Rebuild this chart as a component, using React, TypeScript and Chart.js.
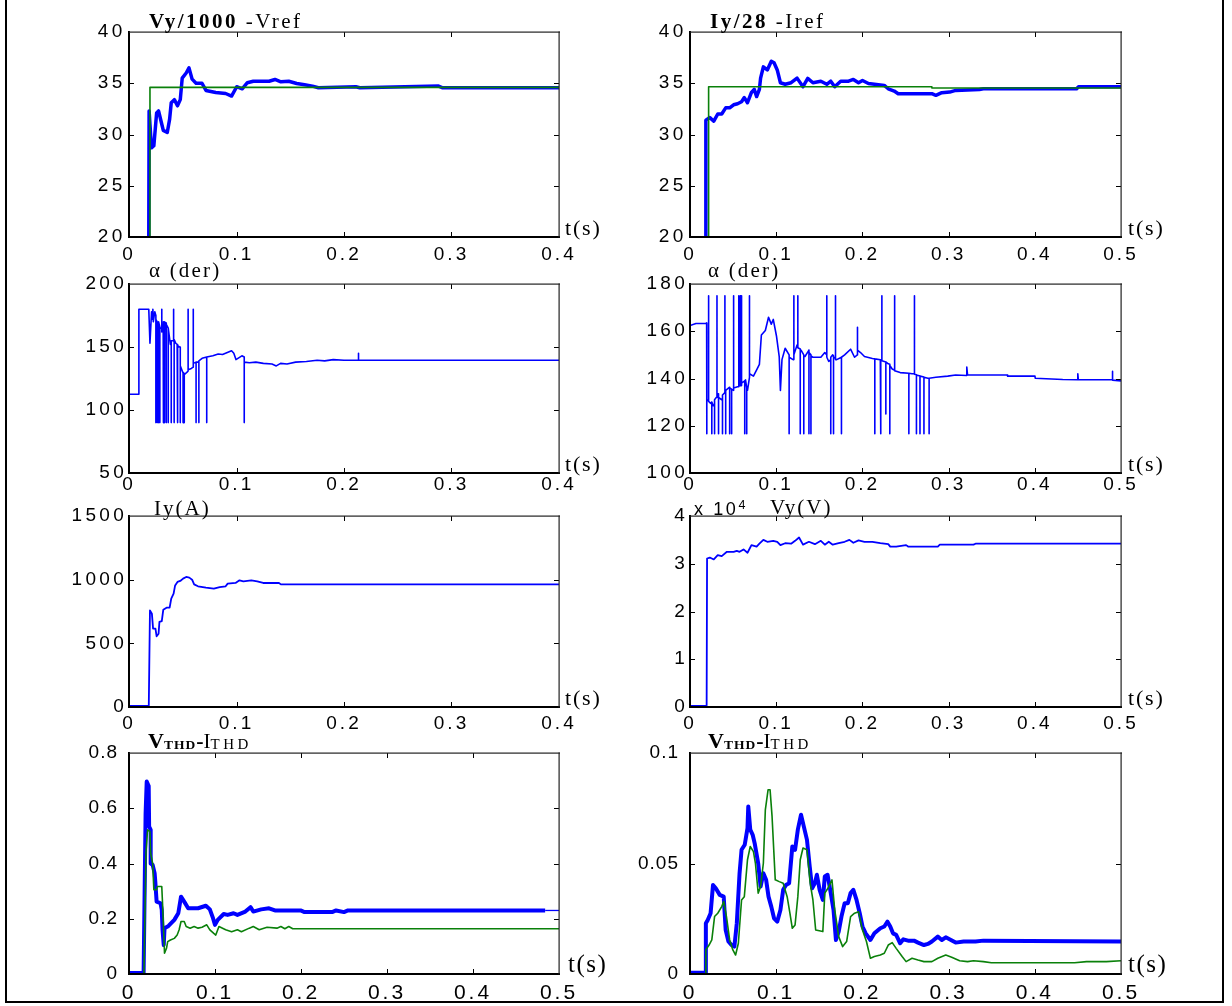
import React, { useEffect, useRef } from "react";
import { Chart, registerables } from "chart.js";

Chart.register(...registerables);

type P = [number, number];

// ---------------- tick labels ----------------
const xTicks04 = [0, 0.1, 0.2, 0.3, 0.4];
const xTicks05 = [0, 0.1, 0.2, 0.3, 0.4, 0.5];
const yTicksVy = [20, 25, 30, 35, 40];
const yTicksIy = [20, 25, 30, 35, 40];
const yTicksAlphaL = [50, 100, 150, 200];
const yTicksAlphaR = [100, 120, 140, 160, 180];
const yTicksIyA = [0, 500, 1000, 1500];
const yTicksVyV = [0, 10000, 20000, 30000, 40000];
const yTicksThdL = [0, 0.2, 0.4, 0.6, 0.8];
const yTicksThdR = [0, 0.05, 0.1];

// ---------------- series ----------------
// Row 1 left: Vy/1000 (blue) and Vref (green)
const vyOver1000: P[] = [
  [0.0184, 20], [0.0187, 32.3], [0.0209, 28.7], [0.0231, 28.9], [0.0257, 32.1], [0.0275, 32.3],
  [0.0305, 31.0], [0.0319, 30.4], [0.0356, 30.2], [0.0378, 31.5], [0.0393, 33.1], [0.0422, 33.4],
  [0.0451, 32.8], [0.0477, 33.4], [0.0495, 35.5], [0.0532, 36.0], [0.0558, 36.5], [0.0587, 35.4],
  [0.0624, 35.0], [0.0679, 35.0], [0.0716, 34.3], [0.0807, 34.1], [0.0899, 34.0], [0.0954, 33.75],
  [0.1002, 34.66], [0.1053, 34.46], [0.1101, 35.05], [0.1156, 35.2], [0.1303, 35.2], [0.1358, 35.37],
  [0.1413, 35.14], [0.1486, 35.2], [0.156, 34.98], [0.1633, 34.85], [0.1707, 34.72], [0.1762, 34.56],
  [0.211, 34.66], [0.2147, 34.56], [0.288, 34.72], [0.2918, 34.56], [0.4, 34.56],
];
const vref: P[] = [[0.0195, 20], [0.0195, 34.6], [0.4, 34.6]];

// Row 1 right: Iy/28 (blue) and Iref (green)
const iyOver28: P[] = [
  [0.0184, 20], [0.0184, 31.4], [0.023, 31.65], [0.0276, 31.3], [0.0322, 32.0], [0.0368, 32.0],
  [0.0414, 32.6], [0.046, 32.6], [0.0506, 32.9], [0.0552, 33.0], [0.0598, 33.2], [0.063, 33.6],
  [0.0667, 33.1], [0.0713, 34.1], [0.0745, 34.4], [0.0773, 33.7], [0.0805, 34.4], [0.0819, 35.5],
  [0.0851, 36.6], [0.0897, 36.3], [0.0943, 37.15], [0.0975, 37.0], [0.1012, 36.3], [0.1049, 35.05],
  [0.1104, 34.9], [0.1173, 35.05], [0.1242, 35.5], [0.1311, 34.66], [0.1366, 35.47], [0.1426, 35.05],
  [0.1518, 35.2], [0.1587, 34.9], [0.1633, 35.2], [0.1679, 34.66], [0.1748, 35.2], [0.184, 35.2],
  [0.1895, 35.37], [0.1955, 35.05], [0.2001, 35.27], [0.207, 34.98], [0.2254, 34.79], [0.23, 34.46],
  [0.2369, 34.24], [0.2415, 33.98], [0.2806, 33.98], [0.2852, 33.82], [0.2921, 34.08], [0.3013, 34.14],
  [0.3082, 34.3], [0.3358, 34.4], [0.3404, 34.46], [0.4485, 34.46], [0.4508, 34.66], [0.5, 34.66],
];
const iref: P[] = [[0.0216, 20], [0.0216, 34.66], [0.2806, 34.66], [0.2806, 34.53], [0.5, 34.53]];

// Row 2 left: alpha (deg)
const alphaLeft: P[] = [
  [0, 112.5], [0.0092, 112.5], [0.0092, 180], [0.0184, 180], [0.0195, 153], [0.021, 178], [0.0218, 172],
  [0.0222, 180], [0.0226, 170], [0.024, 178], [0.025, 175], [0.025, 90], [0.025, 172], [0.0262, 170],
  [0.0262, 90], [0.0262, 168], [0.027, 168], [0.0275, 168], [0.0275, 90], [0.0275, 170], [0.0287, 166],
  [0.0287, 90], [0.0287, 165], [0.0295, 165], [0.0305, 165], [0.0305, 180], [0.0305, 162], [0.0318, 168],
  [0.0318, 90], [0.0318, 170], [0.0325, 170], [0.033, 168], [0.033, 90], [0.033, 170], [0.0345, 169],
  [0.0345, 90], [0.0345, 168], [0.035, 168], [0.0365, 165], [0.0365, 90], [0.0365, 165], [0.0385, 152],
  [0.0393, 152], [0.0393, 90], [0.0393, 155], [0.0415, 155], [0.0415, 180], [0.0415, 155], [0.042, 154],
  [0.042, 90], [0.042, 156], [0.0435, 153], [0.0448, 152], [0.0448, 90], [0.0448, 152], [0.0455, 151],
  [0.0455, 90], [0.0455, 151], [0.047, 150], [0.0477, 150], [0.0477, 90], [0.0477, 135],
  [0.05, 130], [0.0503, 130], [0.0503, 90], [0.0503, 130], [0.0514, 129], [0.0514, 90], [0.0514, 128],
  [0.054, 130], [0.055, 131], [0.055, 180], [0.055, 132], [0.058, 133], [0.0598, 134], [0.0598, 180],
  [0.0598, 137], [0.0624, 138], [0.0624, 90], [0.0624, 138], [0.065, 138], [0.065, 90], [0.065, 139],
  [0.068, 141], [0.0723, 142], [0.0723, 90], [0.0723, 142], [0.078, 143], [0.083, 144.5], [0.087, 144],
  [0.0954, 147], [0.0975, 145], [0.0995, 140], [0.105, 143], [0.1072, 142], [0.1072, 90], [0.1072, 138],
  [0.112, 137.5], [0.118, 138], [0.125, 137], [0.133, 136.5], [0.137, 135], [0.141, 137], [0.147, 136.5],
  [0.155, 138], [0.165, 138.5], [0.175, 139.5], [0.182, 139], [0.19, 140], [0.2, 139.5], [0.2135, 139.5],
  [0.2135, 145], [0.2135, 139.5], [0.4, 139.5],
];

// Row 2 right: alpha (deg)
const alphaRight: P[] = [
  [0, 162.4], [0.0069, 163.3], [0.0184, 163.3],
  [0.0193, 163.5], [0.0193, 116.6], [0.0197, 130.5],
  [0.0207, 131], [0.0216, 131], [0.0216, 175], [0.0216, 130.3],
  [0.024, 129.5], [0.0253, 130], [0.0253, 116.6], [0.0253, 130],
  [0.027, 128.5], [0.0285, 129], [0.0285, 116.6], [0.0285, 131],
  [0.0305, 132], [0.0313, 132], [0.0313, 175], [0.0313, 133.5],
  [0.0331, 133.5], [0.0331, 116.6], [0.0331, 132],
  [0.0368, 131], [0.0377, 131], [0.0377, 116.6], [0.0377, 133],
  [0.0405, 134], [0.0405, 175], [0.0405, 134],
  [0.0414, 134], [0.0414, 116.6], [0.0414, 135],
  [0.046, 136.3], [0.046, 116.6], [0.046, 136],
  [0.0483, 135.5], [0.0483, 116.6], [0.0483, 135.5],
  [0.0506, 135], [0.0506, 175], [0.0506, 136],
  [0.0552, 136.5], [0.0566, 136.5], [0.0566, 175], [0.0566, 137],
  [0.0584, 137], [0.0584, 175], [0.0584, 137],
  [0.0598, 137], [0.0598, 175], [0.0598, 138],
  [0.0635, 139], [0.0635, 116.6], [0.0635, 139],
  [0.0644, 139.4], [0.0658, 136], [0.0658, 116.6], [0.0658, 135],
  [0.0667, 135], [0.069, 140.5], [0.069, 175], [0.069, 142],
  [0.0736, 141], [0.0782, 144.3], [0.0805, 146], [0.0828, 158.4], [0.0874, 160.3], [0.0911, 165.9],
  [0.0943, 163], [0.0966, 165], [0.1003, 158], [0.1035, 149.3], [0.1049, 134.9], [0.1067, 148], [0.1104, 152.8],
  [0.115, 150], [0.115, 116.6], [0.115, 149],
  [0.1196, 148], [0.1205, 148.5], [0.1205, 175], [0.1205, 150],
  [0.1242, 154.2], [0.1251, 154], [0.1251, 175], [0.1251, 153],
  [0.1279, 152.5], [0.1279, 116.6], [0.1279, 152],
  [0.1288, 152], [0.132, 150], [0.132, 116.6], [0.132, 149.5],
  [0.1334, 149.3], [0.138, 152], [0.138, 116.6], [0.138, 151],
  [0.1403, 150], [0.1403, 116.6], [0.1403, 149.5],
  [0.1426, 149], [0.1518, 149], [0.1564, 151], [0.1587, 150], [0.1587, 175], [0.1587, 149],
  [0.161, 147.2], [0.1633, 148], [0.1633, 116.6], [0.1633, 149],
  [0.1656, 150], [0.1665, 149.5], [0.1665, 116.6], [0.1665, 149],
  [0.1688, 148.5], [0.1688, 175], [0.1688, 148],
  [0.1702, 148], [0.1757, 149], [0.1757, 116.6], [0.1757, 149],
  [0.1794, 150], [0.1863, 152.4], [0.1909, 149], [0.1941, 150], [0.1941, 161.7], [0.1945, 152],
  [0.1978, 151], [0.2024, 149.3],
  [0.2116, 148.5], [0.2144, 148.3], [0.2144, 116.6], [0.2144, 148.3],
  [0.2208, 147.9], [0.2213, 147.8], [0.2213, 116.6], [0.2213, 147.7],
  [0.2226, 147.6], [0.2226, 175], [0.2226, 147.5],
  [0.2272, 147], [0.2272, 125], [0.2272, 147],
  [0.23, 146.2], [0.2318, 146], [0.2318, 116.6], [0.2318, 145.5],
  [0.2346, 144], [0.2374, 143.5], [0.2374, 175], [0.2374, 143.3],
  [0.2438, 142.5], [0.2539, 142.2], [0.2539, 116.6], [0.2539, 142.2],
  [0.2576, 142], [0.2604, 142], [0.2604, 175], [0.2604, 141.8],
  [0.2627, 141.6], [0.2627, 116.6], [0.2627, 141.5],
  [0.2668, 141.1], [0.2668, 116.6], [0.2668, 141],
  [0.2714, 140.6], [0.2714, 116.6], [0.2714, 140.5],
  [0.276, 140.1], [0.2774, 140.1], [0.2774, 116.6], [0.2774, 140.1],
  [0.2852, 140.5], [0.299, 141], [0.3082, 141.5], [0.3211, 141.3], [0.3211, 144.8], [0.322, 141.5],
  [0.368, 141.5], [0.3685, 141], [0.4002, 141], [0.4005, 140.1], [0.4324, 139.6], [0.4499, 139.5],
  [0.4499, 142], [0.4505, 139.5], [0.4899, 139.5], [0.4899, 143], [0.4905, 139.3], [0.5, 139],
];

// Row 3 left: Iy (A)
const iyAmps: P[] = [
  [0, 8], [0.0184, 8], [0.0195, 759], [0.0213, 733], [0.0224, 615], [0.0246, 615], [0.0257, 555],
  [0.0275, 576], [0.0283, 668], [0.0305, 675], [0.0319, 764], [0.0349, 780], [0.0378, 780], [0.0393, 851],
  [0.0415, 890], [0.0429, 955], [0.0451, 982], [0.0477, 990], [0.0503, 1008], [0.0532, 1021],
  [0.0561, 1016], [0.0587, 1000], [0.0606, 963], [0.0642, 948], [0.0716, 937], [0.0789, 929],
  [0.0844, 942], [0.0899, 948], [0.0918, 969], [0.0991, 974], [0.1028, 995], [0.1064, 987],
  [0.1138, 995], [0.1193, 987], [0.1248, 974], [0.1395, 974], [0.1413, 963], [0.4, 963],
];

// Row 3 right: Vy (V)
const vyVolts: P[] = [
  [0, 250], [0.0193, 250], [0.0198, 31100], [0.023, 31300], [0.0276, 30900], [0.0322, 31800],
  [0.0368, 31600], [0.0428, 32500], [0.0506, 32500], [0.0543, 32700], [0.0575, 32500], [0.0621, 33000],
  [0.0667, 32300], [0.0713, 33900], [0.0773, 33600], [0.0805, 34200], [0.0851, 35000], [0.0897, 34600],
  [0.0966, 34800], [0.1012, 34600], [0.1049, 33900], [0.1104, 34300], [0.1173, 34200], [0.1219, 34800],
  [0.1265, 35500], [0.1311, 34000], [0.138, 34600], [0.1449, 34100], [0.1518, 34800], [0.1564, 34000],
  [0.161, 34600], [0.1656, 34000], [0.1725, 34300], [0.1794, 34600], [0.1849, 35000], [0.1895, 34400],
  [0.1955, 34900], [0.2024, 34600], [0.2116, 34600], [0.2208, 34300], [0.23, 34100], [0.2323, 33600],
  [0.2392, 33600], [0.2507, 33900], [0.253, 33600], [0.2875, 33600], [0.2898, 34000], [0.3289, 34000],
  [0.3312, 34200], [0.5, 34200],
];

// Row 4 left: V_THD (blue) and I_THD (green)
const thdLeftV: P[] = [
  [0, 0.004], [0.017, 0.004], [0.0193, 0.58], [0.0206, 0.697], [0.0229, 0.68], [0.0234, 0.534],
  [0.0252, 0.522], [0.0252, 0.4], [0.0275, 0.395], [0.0298, 0.365], [0.0307, 0.329], [0.0321, 0.262],
  [0.0367, 0.256], [0.0381, 0.232], [0.039, 0.16], [0.0404, 0.105], [0.0413, 0.166], [0.0459, 0.174],
  [0.0527, 0.196], [0.0573, 0.22], [0.0605, 0.28], [0.0642, 0.262], [0.0688, 0.238], [0.0803, 0.238],
  [0.0894, 0.247], [0.094, 0.234], [0.0977, 0.202], [0.1, 0.178], [0.1032, 0.196], [0.1101, 0.217],
  [0.1147, 0.214], [0.1216, 0.22], [0.1261, 0.214], [0.1353, 0.226], [0.1413, 0.242], [0.1445, 0.226],
  [0.1537, 0.234], [0.1628, 0.238], [0.1697, 0.23], [0.1995, 0.23], [0.2041, 0.224], [0.2362, 0.224],
  [0.2408, 0.23], [0.25, 0.224], [0.2546, 0.23], [0.4839, 0.23],
];
const thdLeftVTail: P[] = [[0.4839, 0.23], [0.5, 0.23]];
const thdLeftI: P[] = [
  [0, 0], [0.0174, 0], [0.0197, 0.437], [0.0216, 0.522], [0.0243, 0.516], [0.0252, 0.437], [0.0275, 0.4],
  [0.0289, 0.305], [0.0321, 0.305], [0.033, 0.317], [0.0381, 0.317], [0.039, 0.256], [0.0413, 0.075],
  [0.0436, 0.093], [0.045, 0.117], [0.0482, 0.123], [0.0527, 0.129], [0.056, 0.141], [0.0583, 0.16],
  [0.0605, 0.19], [0.0642, 0.19], [0.0665, 0.172], [0.0711, 0.166], [0.0757, 0.172], [0.0803, 0.166],
  [0.0849, 0.169], [0.0904, 0.178], [0.094, 0.16], [0.0986, 0.147], [0.1009, 0.141], [0.1046, 0.172],
  [0.1124, 0.16], [0.1193, 0.153], [0.1261, 0.16], [0.1307, 0.153], [0.1399, 0.166], [0.1445, 0.172],
  [0.1514, 0.16], [0.1605, 0.169], [0.172, 0.166], [0.1766, 0.172], [0.1812, 0.164], [0.1858, 0.172],
  [0.1904, 0.164], [0.5, 0.164],
];

// Row 4 right: V_THD (blue) and I_THD (green)
const thdRightV: P[] = [
  [0, 0.0006], [0.0175, 0.0006], [0.0184, 0.023], [0.0207, 0.0245], [0.0239, 0.0275], [0.0267, 0.0403],
  [0.0299, 0.0388], [0.0345, 0.0358], [0.0391, 0.035], [0.0414, 0.0199], [0.0446, 0.0147], [0.0483, 0.0131],
  [0.0515, 0.0124], [0.0543, 0.023], [0.0575, 0.0456], [0.0598, 0.0562], [0.0635, 0.0585], [0.0667, 0.066],
  [0.0676, 0.0758], [0.0699, 0.0653], [0.0727, 0.063], [0.075, 0.0592], [0.0791, 0.0501], [0.0819, 0.0396],
  [0.0851, 0.0456], [0.0883, 0.0426], [0.0911, 0.035], [0.0943, 0.0305], [0.0975, 0.0252], [0.1012, 0.0237],
  [0.1049, 0.029], [0.1081, 0.0381], [0.1113, 0.0403], [0.115, 0.0411], [0.1187, 0.0577], [0.1219, 0.0562],
  [0.1251, 0.0653], [0.1288, 0.0721], [0.132, 0.0668], [0.1357, 0.0607], [0.1389, 0.0486], [0.1417, 0.0388],
  [0.1449, 0.0411], [0.1472, 0.0449], [0.1504, 0.0381], [0.1541, 0.0335], [0.1564, 0.0441], [0.1596, 0.0449],
  [0.1633, 0.0366], [0.1665, 0.029], [0.1693, 0.0154], [0.1725, 0.0192], [0.1757, 0.026], [0.1794, 0.032],
  [0.1831, 0.032], [0.1863, 0.0366], [0.1895, 0.0381], [0.1932, 0.0335], [0.1969, 0.0275], [0.2001, 0.0215],
  [0.2038, 0.0184], [0.2093, 0.0154], [0.2139, 0.0184], [0.2208, 0.0207], [0.2254, 0.0215], [0.2291, 0.0237],
  [0.2323, 0.0215], [0.2355, 0.0184], [0.2392, 0.0177], [0.2438, 0.0139], [0.2475, 0.0157], [0.253, 0.0151],
  [0.2599, 0.0151], [0.2645, 0.0142], [0.2714, 0.0131], [0.276, 0.0136], [0.2806, 0.0147], [0.2875, 0.0169],
  [0.2921, 0.0154], [0.2967, 0.0166], [0.3027, 0.0154], [0.3082, 0.0142], [0.3174, 0.0147], [0.3312, 0.0147],
  [0.3404, 0.0151], [0.5, 0.0147],
];
const thdRightI: P[] = [
  [0, 0], [0.0175, 0], [0.0184, 0.0109], [0.0221, 0.0131], [0.0253, 0.0154], [0.0285, 0.026], [0.0322, 0.0275],
  [0.0368, 0.0305], [0.0391, 0.0328], [0.0423, 0.026], [0.046, 0.0154], [0.0497, 0.0109], [0.0529, 0.0086],
  [0.0561, 0.0139], [0.0598, 0.0335], [0.063, 0.035], [0.0667, 0.0517], [0.0699, 0.0577], [0.0736, 0.0554],
  [0.0759, 0.0501], [0.0791, 0.0366], [0.0819, 0.0396], [0.0851, 0.0501], [0.0874, 0.0743], [0.0906, 0.0834],
  [0.0929, 0.0834], [0.0952, 0.0713], [0.0989, 0.0426], [0.1035, 0.0418], [0.1081, 0.0411], [0.1127, 0.035],
  [0.1159, 0.0275], [0.1187, 0.0207], [0.1219, 0.0222], [0.1251, 0.035], [0.1279, 0.0517], [0.1311, 0.057],
  [0.1357, 0.0562], [0.1394, 0.0411], [0.1426, 0.0335], [0.1458, 0.0199], [0.1541, 0.0192], [0.1564, 0.0366],
  [0.16, 0.0388], [0.1647, 0.0426], [0.1679, 0.029], [0.1725, 0.0169], [0.1771, 0.0124], [0.1817, 0.0147],
  [0.1863, 0.026], [0.1909, 0.0275], [0.1955, 0.0282], [0.2001, 0.0199], [0.2047, 0.0147], [0.2093, 0.0071],
  [0.2139, 0.0079], [0.2208, 0.0086], [0.2254, 0.0094], [0.23, 0.0131], [0.2346, 0.0142], [0.2392, 0.0116],
  [0.2461, 0.0079], [0.2507, 0.0056], [0.2576, 0.0071], [0.2645, 0.0063], [0.2714, 0.0056], [0.2806, 0.0056],
  [0.2875, 0.0071], [0.2967, 0.0086], [0.3036, 0.0076], [0.3128, 0.006], [0.322, 0.0056], [0.3289, 0.006],
  [0.3404, 0.0056], [0.3496, 0.0051], [0.4462, 0.0051], [0.46, 0.0056], [0.483, 0.0056], [0.5, 0.006],
];

// ---------------- styling / layout ----------------
const BLUE = "#0000ff";
const GREEN = "#0a800a";
const SANS = "'Liberation Sans', Arial, Helvetica, sans-serif";
const SERIF = "'Liberation Serif', 'Times New Roman', Times, serif";

type Series = { data: P[]; color: string; width: number };
type PanelDef = {
  left: number; top: number; width: number; height: number;
  xTicks: number[]; yTicks: number[];
  series: Series[];
  yScaleDiv?: number;
  xFont: number; yFont: number; xSpacing: number; ySpacing: number;
  xPad: number; yPad: number;
};

const PADL = 110, PADT = 24, PADR = 34, PADB = 40;
const COL_L = 129, COL_W_L = 430, COL_R = 690, COL_W_R = 431;
const ROWS = [
  { top: 32, height: 205 },
  { top: 284, height: 189 },
  { top: 516, height: 191 },
  { top: 753, height: 221 },
];

const fmt = (v: number) => String(Math.round(v * 1e6) / 1e6);

const rowFonts = [
  { xFont: 19, yFont: 19, xSpacing: 3, ySpacing: 3.3, xPad: 6.5, yPad: 3.5 },
  { xFont: 19, yFont: 19, xSpacing: 3, ySpacing: 3.3, xPad: 0, yPad: 2 },
  { xFont: 19, yFont: 19, xSpacing: 3, ySpacing: 3.3, xPad: 5.5, yPad: 2 },
  { xFont: 21, yFont: 19, xSpacing: 3, ySpacing: 1, xPad: 7, yPad: 11 },
];

const panels: PanelDef[] = [
  { left: COL_L, width: COL_W_L, ...ROWS[0], ...rowFonts[0], xTicks: xTicks04, yTicks: yTicksVy,
    series: [{ data: vref, color: GREEN, width: 1.6 }, { data: vyOver1000, color: BLUE, width: 3.5 }] },
  { left: COL_R, width: COL_W_R, ...ROWS[0], ...rowFonts[0], xTicks: xTicks05, yTicks: yTicksIy,
    series: [{ data: iref, color: GREEN, width: 1.6 }, { data: iyOver28, color: BLUE, width: 3.5 }] },
  { left: COL_L, width: COL_W_L, ...ROWS[1], ...rowFonts[1], xTicks: xTicks04, yTicks: yTicksAlphaL,
    series: [{ data: alphaLeft, color: BLUE, width: 1.6 }] },
  { left: COL_R, width: COL_W_R, ...ROWS[1], ...rowFonts[1], xTicks: xTicks05, yTicks: yTicksAlphaR,
    series: [{ data: alphaRight, color: BLUE, width: 1.6 }] },
  { left: COL_L, width: COL_W_L, ...ROWS[2], ...rowFonts[2], xTicks: xTicks04, yTicks: yTicksIyA,
    series: [{ data: iyAmps, color: BLUE, width: 1.8 }] },
  { left: COL_R, width: COL_W_R, ...ROWS[2], ...rowFonts[2], xTicks: xTicks05, yTicks: yTicksVyV, yScaleDiv: 10000,
    series: [{ data: vyVolts, color: BLUE, width: 1.8 }] },
  { left: COL_L, width: COL_W_L, ...ROWS[3], ...rowFonts[3], xTicks: xTicks05, yTicks: yTicksThdL,
    series: [{ data: thdLeftI, color: GREEN, width: 1.6 }, { data: thdLeftV, color: BLUE, width: 4 },
      { data: thdLeftVTail, color: BLUE, width: 1.3 }] },
  { left: COL_R, width: COL_W_R, ...ROWS[3], ...rowFonts[3], xTicks: xTicks05, yTicks: yTicksThdR,
    series: [{ data: thdRightI, color: GREEN, width: 1.6 }, { data: thdRightV, color: BLUE, width: 4 }] },
];

const TICK_LEN = 5;

const framePlugin = {
  id: "matlabFrame",
  afterDraw(chart: any) {
    const { ctx, chartArea: a, scales } = chart;
    ctx.save();
    ctx.letterSpacing = "0px";
    ctx.strokeStyle = "#000";
    ctx.lineWidth = 1;
    ctx.beginPath();
    for (const t of scales.x.ticks) {
      const px = Math.round(scales.x.getPixelForValue(t.value)) + 0.5;
      if (px <= a.left + 2 || px >= a.right - 2) continue;
      ctx.moveTo(px, a.bottom); ctx.lineTo(px, a.bottom - TICK_LEN);
      ctx.moveTo(px, a.top); ctx.lineTo(px, a.top + TICK_LEN);
    }
    for (const t of scales.y.ticks) {
      const py = Math.round(scales.y.getPixelForValue(t.value)) + 0.5;
      if (py <= a.top + 2 || py >= a.bottom - 2) continue;
      ctx.moveTo(a.left, py); ctx.lineTo(a.left + TICK_LEN, py);
      ctx.moveTo(a.right, py); ctx.lineTo(a.right - TICK_LEN, py);
    }
    ctx.stroke();
    ctx.fillStyle = "#000";
    ctx.fillRect(a.left - 1, a.top - 1, 2, a.bottom - a.top + 2);
    ctx.fillRect(a.left - 1, a.bottom - 1, a.right - a.left + 2, 2);
    ctx.fillStyle = "#222";
    ctx.fillRect(a.left, a.top - 0.5, a.right - a.left + 1, 1.2);
    ctx.fillRect(a.right - 0.5, a.top - 0.5, 1.2, a.bottom - a.top + 1);
    ctx.restore();
  },
};

function wrapLabels(scale: any, spacing: number) {
  if (scale.__wrapped) return;
  scale.__wrapped = true;
  const orig = scale.drawLabels.bind(scale);
  scale.drawLabels = (ca: any) => {
    const ctx = scale.ctx;
    ctx.save();
    ctx.letterSpacing = spacing + "px";
    orig(ca);
    ctx.restore();
  };
}

function PanelChart({ def }: { def: PanelDef }) {
  const ref = useRef<HTMLCanvasElement>(null);
  const cw = def.width + PADL + PADR;
  const ch = def.height + PADT + PADB;
  useEffect(() => {
    const canvas = ref.current!;
    const chart = new Chart(canvas, {
      type: "line",
      data: {
        datasets: def.series.map((s) => ({
          data: s.data.map(([x, y]) => ({ x, y })),
          borderColor: s.color,
          borderWidth: s.width,
          pointRadius: 0,
          tension: 0,
          fill: false,
          borderJoinStyle: "round",
          borderCapStyle: "butt",
        })),
      },
      options: {
        animation: false,
        responsive: false,
        devicePixelRatio: 1,
        events: [],
        layout: { padding: { left: 0, top: PADT, right: PADR, bottom: 0 } },
        plugins: { legend: { display: false }, tooltip: { enabled: false }, title: { display: false } },
        scales: {
          x: {
            type: "linear",
            min: def.xTicks[0],
            max: def.xTicks[def.xTicks.length - 1],
            grid: { display: false, drawTicks: false },
            border: { display: false },
            ticks: {
              autoSkip: false, maxRotation: 0, minRotation: 0, padding: def.xPad, color: "#000",
              font: { family: SANS, size: def.xFont },
              callback: (v: any) => fmt(Number(v)),
            },
            afterBuildTicks: (s: any) => { s.ticks = def.xTicks.map((value) => ({ value })); },
            afterFit: (s: any) => {
              s.height = PADB; s.paddingLeft = 0; s.paddingRight = 0;
              wrapLabels(s, def.xSpacing);
            },
          },
          y: {
            type: "linear",
            min: def.yTicks[0],
            max: def.yTicks[def.yTicks.length - 1],
            grid: { display: false, drawTicks: false },
            border: { display: false },
            ticks: {
              autoSkip: false, padding: def.yPad, color: "#000",
              font: { family: SANS, size: def.yFont },
              callback: (v: any) => fmt(Number(v) / (def.yScaleDiv || 1)),
            },
            afterBuildTicks: (s: any) => { s.ticks = def.yTicks.map((value) => ({ value })); },
            afterFit: (s: any) => {
              s.width = PADL; s.paddingTop = 0; s.paddingBottom = 0;
              wrapLabels(s, def.ySpacing);
            },
          },
        },
      } as any,
      plugins: [framePlugin],
    });
    return () => chart.destroy();
  }, [def]);
  return (
    <canvas
      ref={ref}
      width={cw}
      height={ch}
      style={{ position: "absolute", left: def.left - PADL, top: def.top - PADT, width: cw, height: ch }}
    />
  );
}

function Txt(props: {
  x: number; baseline: number; size: number; family: string; spacing?: number; bold?: boolean;
  children: React.ReactNode;
}) {
  const k = props.family === SERIF ? 0.8375 : 0.8465;
  return (
    <div
      style={{
        position: "absolute", left: props.x, top: props.baseline - k * props.size,
        fontSize: props.size, lineHeight: 1, fontFamily: props.family,
        letterSpacing: props.spacing ?? 0, whiteSpace: "nowrap", color: "#000",
        fontWeight: props.bold ? "bold" : "normal",
      }}
    >
      {props.children}
    </div>
  );
}

function ThdTitle({ x, baseline }: { x: number; baseline: number }) {
  return (
    <Txt x={x} baseline={baseline} size={22} family={SERIF}>
      <b>V</b>
      <b style={{ fontSize: 13.5, letterSpacing: 1, position: "relative", top: 1 }}>THD</b>
      <b>-</b>
      <span style={{ fontSize: 21 }}>I</span>
      <span style={{ fontSize: 15, letterSpacing: 3.5, position: "relative", top: 1 }}>THD</span>
    </Txt>
  );
}

const TS = "t(s)";

export default function App() {
  const rightL = COL_L + COL_W_L;
  const rightR = COL_R + COL_W_R;
  const bottoms = ROWS.map((r) => r.top + r.height);
  return (
    <div style={{ position: "absolute", left: 0, top: 0, width: 1232, height: 1006, overflow: "hidden", background: "#fff" }}>
      {panels.map((p, i) => <PanelChart key={i} def={p} />)}

      {/* page frame */}
      <div style={{ position: "absolute", left: 5, top: 0, width: 2, height: 1003, background: "#000" }} />
      <div style={{ position: "absolute", left: 1222, top: 0, width: 2, height: 1003, background: "#000" }} />
      <div style={{ position: "absolute", left: 5, top: 1001, width: 1219, height: 2, background: "#000" }} />

      {/* titles */}
      <Txt x={149} baseline={29} size={21} family={SERIF} spacing={2.5}>
        <b>Vy/1000</b> -Vref
      </Txt>
      <Txt x={710} baseline={29} size={21} family={SERIF} spacing={2.5}>
        <b>Iy/28</b> -Iref
      </Txt>
      <Txt x={149} baseline={278} size={21} family={SERIF} spacing={2.2}>α (der)</Txt>
      <Txt x={708} baseline={278} size={21} family={SERIF} spacing={2.2}>α (der)</Txt>
      <Txt x={154} baseline={516} size={21} family={SERIF} spacing={2}>Iy(A)</Txt>
      <Txt x={694} baseline={515} size={18} family={SANS} spacing={2.6}>
        x 10<span style={{ fontSize: 12.5, position: "relative", top: -6 }}>4</span>
      </Txt>
      <Txt x={770} baseline={515} size={21} family={SERIF} spacing={2}>Vy(V)</Txt>
      <ThdTitle x={148} baseline={748} />
      <ThdTitle x={708} baseline={748} />

      {/* time axis labels */}
      {[0, 1, 2].map((r) => (
        <React.Fragment key={r}>
          <Txt x={rightL + 6} baseline={bottoms[r] - 2} size={22} family={SERIF} spacing={1.8}>{TS}</Txt>
          <Txt x={rightR + 7} baseline={bottoms[r] - 2} size={22} family={SERIF} spacing={1.8}>{TS}</Txt>
        </React.Fragment>
      ))}
      <Txt x={rightL + 9} baseline={bottoms[3] - 2} size={25} family={SERIF} spacing={1.5}>{TS}</Txt>
      <Txt x={rightR + 7} baseline={bottoms[3] - 2} size={25} family={SERIF} spacing={1.5}>{TS}</Txt>
    </div>
  );
}
